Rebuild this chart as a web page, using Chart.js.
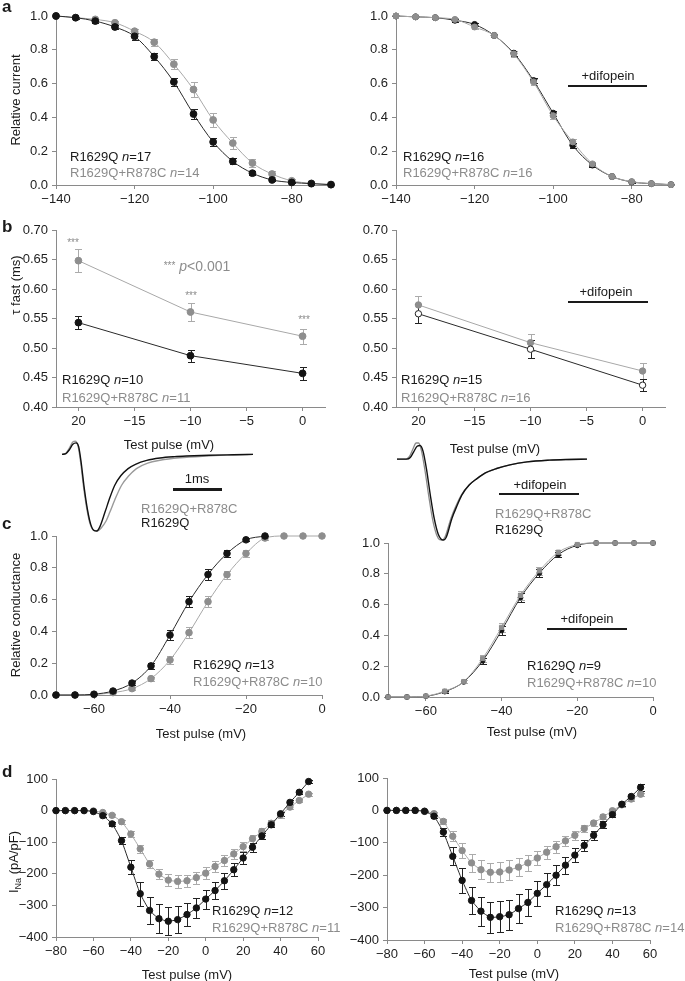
<!DOCTYPE html>
<html><head><meta charset="utf-8">
<script src="https://cdn.jsdelivr.net/npm/chart.js@4.4.1/dist/chart.umd.min.js"></script>
<style>
html,body{margin:0;padding:0;background:#fff}
body{position:relative;width:685px;height:981px;overflow:hidden;font-family:"Liberation Sans",Arial,Helvetica,sans-serif}
canvas{position:absolute}
.t{position:absolute;white-space:nowrap;line-height:1;font-size:13px;color:#1a1a1a}
.bar{position:absolute;background:#1a1a1a}
</style></head><body>
<script>
// ================= DATA =================
// Panel a: steady-state inactivation (relative current vs conditioning potential)
const vInact = [-140,-135,-130,-125,-120,-115,-110,-105,-100,-95,-90,-85,-80,-75,-70];
const inactTicksX = [-140,-120,-100,-80];
const inactTicksY = [0,0.2,0.4,0.6,0.8,1.0];
const aLeftR1629Q      = [1.0,0.99,0.97,0.935,0.88,0.76,0.61,0.42,0.255,0.14,0.07,0.03,0.015,0.008,0.002];
const aLeftR1629QErr   = [0,0.005,0.01,0.012,0.02,0.02,0.025,0.03,0.025,0.018,0.01,0.006,0.004,0.003,0.002];
const aLeftDouble      = [1.0,0.99,0.98,0.96,0.91,0.845,0.715,0.565,0.385,0.248,0.13,0.065,0.025,0.01,0.003];
const aLeftDoubleErr   = [0,0.004,0.008,0.01,0.015,0.02,0.03,0.045,0.04,0.035,0.025,0.015,0.008,0.004,0.002];
const aRightR1629Q     = [1.0,0.995,0.99,0.975,0.95,0.885,0.78,0.618,0.425,0.235,0.118,0.05,0.018,0.008,0.002];
const aRightR1629QErr  = [0,0.003,0.005,0.008,0.01,0.01,0.015,0.015,0.015,0.015,0.01,0.006,0.004,0.002,0.001];
const aRightDouble     = [1.0,0.995,0.99,0.98,0.935,0.885,0.775,0.61,0.41,0.255,0.125,0.05,0.02,0.008,0.002];
const aRightDoubleErr  = [0,0.003,0.005,0.008,0.01,0.01,0.015,0.02,0.02,0.015,0.01,0.006,0.004,0.002,0.001];

// Panel b: tau fast vs test pulse
const vTau = [-20,-10,0];
const tauTicksX = [-20,-15,-10,-5,0];
const tauTickLabels = ['20','\u221215','\u221210','\u22125','0'];
const tauTicksY = [0.40,0.45,0.50,0.55,0.60,0.65,0.70];
const bLeftR1629Q     = [0.543,0.487,0.457];
const bLeftR1629QErr  = [0.011,0.010,0.011];
const bLeftDouble     = [0.648,0.561,0.520];
const bLeftDoubleErr  = [0.019,0.015,0.013];
const bRightR1629Q    = [0.558,0.498,0.437];
const bRightR1629QErr = [0.016,0.015,0.010];
const bRightDouble    = [0.573,0.509,0.461];
const bRightDoubleErr = [0.015,0.014,0.013];

// Current traces (time in ms, normalised current)
const trLeftTimeQ   = [0,0.08,0.15,0.22,0.29,0.34,0.39,0.45,0.52,0.59,0.66,0.71,0.77,0.88,0.98,1.08,1.2,1.35,1.5,1.73,2.0,2.3,2.54,3.0,3.5,3.9];
const trLeftQ       = [0,0.01,0.06,0.13,0.15,0.1,-0.1,-0.42,-0.72,-0.92,-0.995,-1.0,-0.95,-0.75,-0.56,-0.40,-0.28,-0.186,-0.13,-0.078,-0.047,-0.03,-0.022,-0.012,-0.005,0];
const trLeftTimeQC  = [0,0.08,0.15,0.22,0.27,0.33,0.38,0.44,0.51,0.58,0.66,0.72,0.8,0.9,0.98,1.1,1.22,1.35,1.52,1.75,2.0,2.4,2.95,3.4,3.9];
const trLeftQC      = [0,0.015,0.08,0.16,0.17,0.1,-0.1,-0.42,-0.72,-0.92,-0.995,-1.0,-0.96,-0.87,-0.75,-0.56,-0.40,-0.29,-0.186,-0.115,-0.078,-0.045,-0.022,-0.01,0];
const trRightTimeQ  = [0,0.2,0.27,0.34,0.41,0.47,0.53,0.6,0.68,0.76,0.84,0.9,0.95,1.0,1.12,1.22,1.32,1.47,1.63,1.8,2.03,2.3,2.65,3.1,3.5,3.87];
const trRightQ      = [0,0,0.02,0.09,0.16,0.17,0.1,-0.12,-0.45,-0.74,-0.93,-0.99,-1.0,-0.97,-0.73,-0.58,-0.444,-0.32,-0.24,-0.17,-0.115,-0.07,-0.033,-0.012,-0.004,0];
const trRightTimeQC = [0,0.18,0.25,0.32,0.39,0.44,0.5,0.57,0.65,0.73,0.81,0.87,0.92,0.98,1.1,1.2,1.31,1.47,1.63,1.8,2.03,2.3,2.65,3.1,3.5,3.87];
const trRightQC     = [0,0,0.03,0.12,0.2,0.2,0.1,-0.14,-0.47,-0.76,-0.94,-0.995,-1.0,-0.96,-0.73,-0.58,-0.444,-0.32,-0.24,-0.17,-0.115,-0.07,-0.033,-0.012,-0.004,0];

// Panel c: activation (relative conductance)
const vAct = [-70,-65,-60,-55,-50,-45,-40,-35,-30,-25,-20,-15,-10,-5,0];
const actTicksX = [-60,-40,-20,0];
const actTicksY = [0,0.2,0.4,0.6,0.8,1.0];
const cLeftR1629Q     = [0,0,0.005,0.025,0.075,0.183,0.377,0.587,0.758,0.89,0.976,1.0];
const cLeftR1629QErr  = [0,0,0.003,0.006,0.01,0.02,0.03,0.035,0.035,0.02,0.01,0.003];
const cLeftDouble     = [0,0,0.003,0.015,0.04,0.103,0.22,0.392,0.587,0.757,0.89,0.987,1.0,1.0,1.0];
const cLeftDoubleErr  = [0,0,0.002,0.004,0.008,0.012,0.025,0.035,0.035,0.025,0.02,0.01,0,0,0];
const cRightR1629Q    = [0,0,0.005,0.035,0.098,0.235,0.432,0.645,0.805,0.925,0.985,1,1,1,1];
const cRightR1629QErr = [0,0,0.003,0.006,0.01,0.02,0.03,0.03,0.025,0.015,0.006,0,0,0,0];
const cRightDouble    = [0,0,0.006,0.038,0.1,0.25,0.452,0.66,0.82,0.94,0.99,1,1,1,1];
const cRightDoubleErr = [0,0,0.003,0.006,0.01,0.02,0.03,0.03,0.025,0.015,0.006,0,0,0,0];

// Panel d: current-voltage relationship
const vIV = [-80,-75,-70,-65,-60,-55,-50,-45,-40,-35,-30,-25,-20,-15,-10,-5,0,5,10,15,20,25,30,35,40,45,50,55];
const ivTicksX = [-80,-60,-40,-20,0,20,40,60];
const ivTicksY = [-400,-300,-200,-100,0,100];
const dLeftR1629Q     = [0,0,0,0,-3,-16,-42,-95,-179,-263,-316,-342,-350,-345,-329,-308,-280,-253,-222,-187,-150,-116,-80,-45,-10,26,58,92];
const dLeftR1629QErr  = [0,0,0,0,2,4,6,10,22,38,42,45,45,42,37,32,30,27,25,20,18,15,10,8,6,6,5,6];
const dLeftDouble     = [0,0,0,0,-1,-6,-15,-35,-74,-121,-169,-201,-220,-224,-222,-212,-198,-177,-158,-137,-114,-89,-66,-40,-14,11,32,52];
const dLeftDoubleErr  = [0,0,0,0,1,2,4,6,9,12,14,17,20,20,19,19,19,18,17,16,15,13,12,10,8,6,5,5];
const dRightR1629Q    = [0,0,0,0,-3,-18,-67,-142,-216,-278,-311,-330,-328,-322,-303,-284,-256,-229,-200,-169,-138,-108,-77,-44,-13,19,43,71];
const dRightR1629QErr = [0,0,0,0,2,5,12,28,38,42,45,48,48,47,45,42,38,35,30,26,22,18,14,10,8,6,6,10];
const dRightDouble    = [0,0,0,0,-2,-10,-34,-80,-124,-162,-183,-191,-190,-184,-175,-162,-147,-129,-112,-94,-77,-56,-39,-20,-1,17,35,50];
const dRightDoubleErr = [0,0,0,0,2,4,8,15,22,28,30,30,30,30,28,25,22,20,18,16,14,12,10,8,6,5,5,5];

// ================= STYLE =================
const FONT = '"Liberation Sans", Arial, Helvetica, sans-serif';
const BLACK = '#141414', GRAY = '#8e8e8e', GRAYLINE = '#a8a8a8', GRAYERR = '#ababab', BLACKLINE = '#2a2a2a';
const AXIS = '#8a8a8a';
const WY = 50, PT = 14, PR = 24, HX = 30;

const errorBars = {
  id: 'errorBars',
  beforeDatasetsDraw(chart) {
    const ctx = chart.ctx, ys = chart.scales.y;
    for (let i = chart.data.datasets.length - 1; i >= 0; i--) {
      const ds = chart.data.datasets[i];
      if (!ds.errors) continue;
      const meta = chart.getDatasetMeta(i);
      ctx.save();
      ctx.strokeStyle = ds.errorColor; ctx.lineWidth = 1;
      meta.data.forEach((pt, j) => {
        const e = ds.errors[j]; if (!e) return;
        const v = ds.data[j].y;
        const y1 = Math.round(ys.getPixelForValue(v + e)) + 0.5, y2 = Math.round(ys.getPixelForValue(v - e)) + 0.5;
        const x = Math.round(pt.x) + 0.5;
        ctx.beginPath();
        ctx.moveTo(x, y1); ctx.lineTo(x, y2);
        ctx.moveTo(x - 3.5, y1); ctx.lineTo(x + 3.5, y1);
        ctx.moveTo(x - 3.5, y2); ctx.lineTo(x + 3.5, y2);
        ctx.stroke();
      });
      ctx.restore();
    }
  }
};

function fmt(v, dec) { return v.toFixed(dec).replace('-', '\u2212'); }

function axis(o, horiz) {
  return {
    type: 'linear', min: o.min, max: o.max, position: horiz ? 'bottom' : 'left',
    border: { display: true, color: AXIS, width: 1 },
    grid: { display: true, drawOnChartArea: false, drawTicks: true, tickLength: 4, color: AXIS, lineWidth: 1 },
    ticks: { color: '#1e1e1e', font: { size: 13, family: FONT }, padding: horiz ? 3 : 4,
      maxRotation: 0, autoSkip: false, includeBounds: false,
      callback: (v, i) => o.labels ? o.labels[i] : fmt(v, o.dec || 0) },
    afterBuildTicks: s => { s.ticks = o.ticks.map(v => ({ value: v })); },
    afterFit: s => { if (horiz) s.height = HX; else s.width = WY;
      s.paddingLeft = 0; s.paddingRight = 0; s.paddingTop = 0; s.paddingBottom = 0; }
  };
}

function makeCanvas(L, T, W, H) {
  const cv = document.createElement('canvas');
  cv.width = W; cv.height = H;
  Object.assign(cv.style, { left: L + 'px', top: T + 'px', width: W + 'px', height: H + 'px' });
  document.body.appendChild(cv);
  return cv;
}

function panel(area, x, y, datasets) {
  const L = area.l - WY, T = area.t - PT;
  const W = area.r - area.l + WY + PR, H = area.b - area.t + PT + HX;
  return new Chart(makeCanvas(L, T, W, H), {
    type: 'line',
    data: { datasets },
    options: {
      responsive: false, animation: false, devicePixelRatio: 1,
      layout: { autoPadding: false, padding: { left: 0, top: PT, right: PR, bottom: 0 } },
      plugins: { legend: { display: false }, tooltip: { enabled: false } },
      scales: { x: axis(x, true), y: axis(y, false) }
    },
    plugins: [errorBars]
  });
}

function tracePanel(area, xr, yr, datasets) {
  const P = 6;
  return new Chart(makeCanvas(area.l - P, area.t - P, area.r - area.l + 2 * P, area.b - area.t + 2 * P), {
    type: 'line',
    data: { datasets },
    options: {
      responsive: false, animation: false, devicePixelRatio: 1,
      layout: { autoPadding: false, padding: P },
      plugins: { legend: { display: false }, tooltip: { enabled: false } },
      scales: { x: { type: 'linear', display: false, min: xr[0], max: xr[1] },
                y: { type: 'linear', display: false, min: yr[0], max: yr[1] } }
    }
  });
}

function ser(xs, ys, errs, o) {
  return {
    data: ys.map((y, i) => ({ x: xs[i], y })),
    errors: errs, errorColor: o.err,
    borderColor: o.line, borderWidth: o.lw || 1,
    pointBackgroundColor: o.fill, pointBorderColor: o.pb || o.fill, pointBorderWidth: 1,
    pointRadius: o.r === undefined ? 3.2 : o.r, pointStyle: o.style || 'circle',
    tension: o.tension || 0, cubicInterpolationMode: o.mono ? 'monotone' : 'default',
    clip: false, fill: false
  };
}

const blk = (extra) => Object.assign({ line: BLACKLINE, fill: BLACK, err: '#222' }, extra);
const gry = (extra) => Object.assign({ line: GRAYLINE, fill: GRAY, err: GRAYERR }, extra);

// ================= CHARTS =================
// a
panel({ l: 56, t: 16, r: 331, b: 185 },
  { min: -140, max: -70, ticks: inactTicksX }, { min: 0, max: 1, ticks: inactTicksY, dec: 1 },
  [ ser(vInact, aLeftR1629Q, aLeftR1629QErr, blk({ mono: true, r: 3.4 })),
    ser(vInact, aLeftDouble, aLeftDoubleErr, gry({ mono: true, r: 3.4 })) ]);
panel({ l: 396, t: 16, r: 671, b: 185 },
  { min: -140, max: -70, ticks: inactTicksX }, { min: 0, max: 1, ticks: inactTicksY, dec: 1 },
  [ ser(vInact, aRightDouble, aRightDoubleErr, gry({ mono: true, r: 3 })),
    ser(vInact, aRightR1629Q, aRightR1629QErr, blk({ mono: true, r: 3 })) ]);
// b
panel({ l: 56, t: 230, r: 325, b: 407 },
  { min: -22, max: 2, ticks: tauTicksX, labels: tauTickLabels }, { min: 0.4, max: 0.7, ticks: tauTicksY, dec: 2 },
  [ ser(vTau, bLeftR1629Q, bLeftR1629QErr, blk({ r: 3.4 })),
    ser(vTau, bLeftDouble, bLeftDoubleErr, gry({ r: 3.4 })) ]);
panel({ l: 396, t: 230, r: 665, b: 407 },
  { min: -22, max: 2, ticks: tauTicksX, labels: tauTickLabels }, { min: 0.4, max: 0.7, ticks: tauTicksY, dec: 2 },
  [ ser(vTau, bRightR1629Q, bRightR1629QErr, blk({ r: 3.2, fill: '#ffffff', pb: '#222' })),
    ser(vTau, bRightDouble, bRightDoubleErr, gry({ r: 3.2 })) ]);
// traces
tracePanel({ l: 62, t: 439, r: 253, b: 531 }, [0, 3.9], [-1, 0.2],
  [ ser(trLeftTimeQ, trLeftQ, null, { line: '#111', lw: 1.4, r: 0, mono: true }),
    ser(trLeftTimeQC, trLeftQC, null, { line: '#9a9a9a', lw: 1.4, r: 0, mono: true }) ]);
tracePanel({ l: 397, t: 443, r: 587, b: 540 }, [0, 3.87], [-1, 0.2],
  [ ser(trRightTimeQ, trRightQ, null, { line: '#111', lw: 1.4, r: 0, mono: true }),
    ser(trRightTimeQC, trRightQC, null, { line: '#8a8a8a', lw: 1.3, r: 0, mono: true }) ]);
// c
panel({ l: 56, t: 536, r: 322, b: 695 },
  { min: -70, max: 0, ticks: actTicksX }, { min: 0, max: 1, ticks: actTicksY, dec: 1 },
  [ ser(vAct, cLeftR1629Q, cLeftR1629QErr, blk({ mono: true, r: 3.3 })),
    ser(vAct, cLeftDouble, cLeftDoubleErr, gry({ mono: true, r: 3.3 })) ]);
panel({ l: 388, t: 543, r: 653, b: 697 },
  { min: -70, max: 0, ticks: actTicksX }, { min: 0, max: 1, ticks: actTicksY, dec: 1 },
  [ ser(vAct, cRightDouble, cRightDoubleErr, gry({ mono: true, r: 3, style: 'rect' })),
    ser(vAct, cRightR1629Q, cRightR1629QErr, blk({ mono: true, r: 2.4 })) ]);
// d
panel({ l: 56, t: 779, r: 318, b: 937 },
  { min: -80, max: 60, ticks: ivTicksX }, { min: -400, max: 100, ticks: ivTicksY },
  [ ser(vIV, dLeftR1629Q, dLeftR1629QErr, blk({ r: 3.2, tension: 0.15 })),
    ser(vIV, dLeftDouble, dLeftDoubleErr, gry({ r: 3.2, tension: 0.15 })) ]);
panel({ l: 387, t: 778, r: 650, b: 940 },
  { min: -80, max: 60, ticks: ivTicksX }, { min: -400, max: 100, ticks: ivTicksY },
  [ ser(vIV, dRightR1629Q, dRightR1629QErr, blk({ r: 3.2, tension: 0.15 })),
    ser(vIV, dRightDouble, dRightDoubleErr, gry({ r: 3.2, tension: 0.15 })) ]);

// ================= TEXT =================
function txt(html, x, y, o = {}) {
  const d = document.createElement('div'); d.className = 't'; d.innerHTML = html;
  d.style.left = x + 'px'; d.style.top = y + 'px';
  let tr = o.center ? 'translate(-50%,-50%)' : 'translate(0,-50%)';
  if (o.rot) tr += ' rotate(-90deg)';
  d.style.transform = tr;
  if (o.color) d.style.color = o.color;
  if (o.size) d.style.fontSize = o.size + 'px';
  if (o.bold) d.style.fontWeight = 'bold';
  document.body.appendChild(d);
}
function bar(x1, x2, y, h) {
  const d = document.createElement('div'); d.className = 'bar';
  Object.assign(d.style, { left: x1 + 'px', top: (y - h / 2) + 'px', width: (x2 - x1) + 'px', height: h + 'px' });
  document.body.appendChild(d);
}
const GT = '#8c8c8c';
// panel letters
txt('a', 2, 6, { bold: true, size: 17 });
txt('b', 2, 226, { bold: true, size: 17 });
txt('c', 2, 523, { bold: true, size: 17 });
txt('d', 2, 771, { bold: true, size: 17 });
// axis titles
txt('Relative current', 15, 100, { center: true, rot: true });
txt('\u03c4 fast (ms)', 15, 285, { center: true, rot: true });
txt('Relative conductance', 15, 615, { center: true, rot: true });
txt('I<span style="font-size:9px;position:relative;top:3px">Na</span> (pA/pF)', 13, 862, { center: true, rot: true });
txt('Test pulse (mV)', 169, 444, { center: true });
txt('Test pulse (mV)', 495, 448, { center: true });
txt('Test pulse (mV)', 201, 733, { center: true });
txt('Test pulse (mV)', 532, 731, { center: true });
txt('Test pulse (mV)', 187, 974, { center: true });
txt('Test pulse (mV)', 514, 973, { center: true });
// legends
txt('R1629Q <i>n</i>=17', 70, 156); txt('R1629Q+R878C <i>n</i>=14', 70, 172, { color: GT });
txt('R1629Q <i>n</i>=16', 403, 156); txt('R1629Q+R878C <i>n</i>=16', 403, 172, { color: GT });
txt('R1629Q <i>n</i>=10', 62, 379); txt('R1629Q+R878C <i>n</i>=11', 62, 397, { color: GT });
txt('R1629Q <i>n</i>=15', 401, 379); txt('R1629Q+R878C <i>n</i>=16', 401, 397, { color: GT });
txt('R1629Q <i>n</i>=13', 193, 664); txt('R1629Q+R878C <i>n</i>=10', 193, 681, { color: GT });
txt('R1629Q <i>n</i>=9', 527, 665); txt('R1629Q+R878C <i>n</i>=10', 527, 682, { color: GT });
txt('R1629Q <i>n</i>=12', 212, 910); txt('R1629Q+R878C <i>n</i>=11', 212, 927, { color: GT });
txt('R1629Q <i>n</i>=13', 555, 910); txt('R1629Q+R878C <i>n</i>=14', 555, 927, { color: GT });
// significance
txt('***', 73, 243, { center: true, color: GT, size: 10 });
txt('***', 191, 296, { center: true, color: GT, size: 10 });
txt('***', 304, 320, { center: true, color: GT, size: 10 });
txt('<span style="font-size:10px;position:relative;top:-2px">***</span> <i>p</i>&lt;0.001', 197, 266, { center: true, color: GT, size: 14 });
// difopein labels
txt('+difopein', 608, 75, { center: true }); bar(568, 647, 86, 2);
txt('+difopein', 606, 291, { center: true }); bar(568, 648, 302, 2);
txt('+difopein', 587, 618, { center: true }); bar(547, 627, 629, 2);
txt('+difopein', 540, 484, { center: true }); bar(499, 579, 494, 2);
// trace labels
txt('1ms', 197, 478, { center: true }); bar(173, 222, 489, 3);
txt('R1629Q+R878C', 141, 508, { color: GT }); txt('R1629Q', 141, 522);
txt('R1629Q+R878C', 495, 513, { color: GT }); txt('R1629Q', 495, 529);
</script>
</body></html>
